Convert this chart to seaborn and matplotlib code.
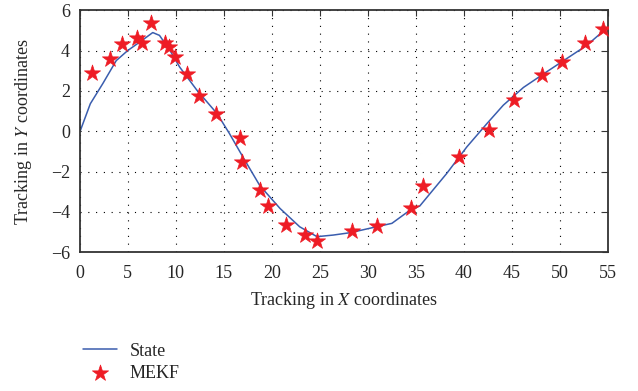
import matplotlib
matplotlib.use("Agg")
import matplotlib.pyplot as plt
import seaborn as sns
import pandas as pd

# State trajectory
state_x = [0, 1.1, 2.4, 3.8, 5.0, 6.25, 7.6, 8.3, 9.4, 10.4, 12.2, 14.3, 15.6, 17.0,
           18.75, 20.85, 22.9, 24.7, 26.4, 28.2, 30.6, 32.5, 34.4, 35.4, 38.2, 40.3,
           42.4, 44.1, 46.2, 48.6, 50.7, 52.8, 54.6]
state_y = [-0.05, 1.36, 2.36, 3.5, 4.0, 4.42, 4.89, 4.75, 4.0, 3.18, 2.03, 0.87, -0.13, -1.29,
           -2.7, -3.83, -4.74, -5.23, -5.15, -5.03, -4.77, -4.57, -3.91, -3.71, -2.1, -0.78,
           0.38, 1.29, 2.17, 2.94, 3.6, 4.26, 5.0]

# MEKF estimates
mekf_x = [1.25, 3.1, 4.4, 6.0, 6.5, 7.4, 8.9, 9.3, 9.9, 11.2, 12.4, 14.2, 16.7, 16.9,
          18.75, 19.55, 21.46, 23.5, 24.7, 28.3, 30.9, 34.5, 35.7, 39.5, 42.6, 45.2,
          48.1, 50.2, 52.6, 54.5]
mekf_y = [2.9, 3.6, 4.3, 4.6, 4.35, 5.34, 4.38, 4.18, 3.68, 2.83, 1.74, 0.83, -0.33, -1.52,
          -2.93, -3.72, -4.66, -5.16, -5.44, -4.94, -4.69, -3.83, -2.73, -1.27, 0.08, 1.57,
          2.78, 3.44, 4.38, 5.06]

state = pd.DataFrame({"x": state_x, "y": state_y})
mekf = pd.DataFrame({"x": mekf_x, "y": mekf_y})

sns.set_style("white")
plt.rcParams["font.family"] = ["Liberation Serif", "DejaVu Serif"]
plt.rcParams["mathtext.fontset"] = "stix"

fig = plt.figure(figsize=(6.38, 3.91), dpi=100)
ax = fig.add_axes([0.125, 0.355, 0.828, 0.619])

sns.lineplot(data=state, x="x", y="y", ax=ax, color="#3a5dae", linewidth=1.1,
             sort=False, label="State")
sns.scatterplot(data=mekf, x="x", y="y", ax=ax, marker="*", s=150, color="#ee1c25",
                edgecolor="#ee1c25", linewidth=0.5, label="MEKF", zorder=3)

ax.set_xlim(0, 55)
ax.set_ylim(-6, 6)
ax.set_xticks(range(0, 56, 5))
ax.set_yticks(range(-6, 7, 2))
ax.grid(True, color="black", linestyle=(0, (1, 6)), linewidth=0.8)
ax.tick_params(direction="in", top=True, right=True, labelsize=13, length=4,
               color="#333333")
ax.tick_params(axis="x", pad=9)
ax.tick_params(axis="y", pad=7)
for s in ax.spines.values():
    s.set_color("#333333")
    s.set_linewidth(1.3)

ax.set_xlabel("Tracking in $X$ coordinates", fontsize=13, labelpad=6)
ax.set_ylabel("Tracking in $Y$ coordinates", fontsize=13, labelpad=12)

ax.legend(loc="upper left", bbox_to_anchor=(0.118, 0.142), bbox_transform=fig.transFigure,
          frameon=False, fontsize=13, handlelength=1.9, labelspacing=0.3,
          borderaxespad=0, handletextpad=0.7)

plt.savefig("out.png", dpi=100)
